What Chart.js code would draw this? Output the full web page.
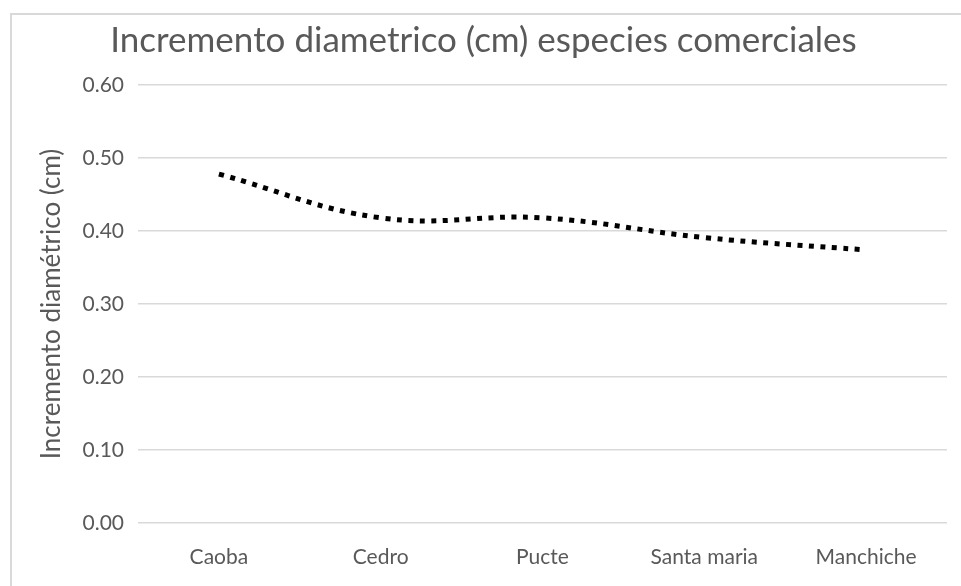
<!DOCTYPE html>
<html lang="es">
<head>
<meta charset="utf-8">
<title>Incremento diametrico</title>
<script src="https://cdn.jsdelivr.net/npm/chart.js@4"></script>
<style>
  html, body { margin: 0; padding: 0; background: #fff; overflow: hidden; }
  #frame {
    position: absolute; left: 10px; top: 13px;
    width: 1200px; height: 800px;
    border: 2px solid #d9d9d9; box-sizing: border-box;
  }
  #grafico { position: absolute; left: 0; top: 0; }
</style>
</head>
<body>
<div id="frame"></div>
<canvas id="grafico" width="961" height="586"></canvas>
<script>
// Especies y su incremento diametrico medio (cm)
const especies = ['Caoba', 'Cedro', 'Pucte', 'Santa maria', 'Manchiche'];
const incremento = [0.478, 0.418, 0.418, 0.391, 0.374];
const marcasY = [0, 0.1, 0.2, 0.3, 0.4, 0.5, 0.6];

const gris = '#595959';
const fuente = 'Lato, "Open Sans", sans-serif';

document.addEventListener('DOMContentLoaded', () => {
  const ctx = document.getElementById('grafico');
  new Chart(ctx, {
    type: 'line',
    data: {
      labels: especies,
      datasets: [{
        data: incremento,
        borderColor: '#000',
        borderWidth: 5,
        borderDash: [5, 6.5],
        borderCapStyle: 'butt',
        tension: 0.4,
        pointRadius: 0,
        fill: false,
      }],
    },
    options: {
      responsive: false,
      animation: false,
      layout: { padding: { left: 20, right: 14, top: 0, bottom: 0 } },
      plugins: {
        legend: { display: false },
        tooltip: { enabled: false },
        title: {
          display: true,
          text: 'Incremento diametrico (cm) especies comerciales',
          color: gris,
          font: { family: fuente, size: 35, weight: 'normal' },
          padding: { top: 20, bottom: 23 },
        },
      },
      scales: {
        x: {
          offset: true,
          grid: { display: false },
          border: { display: false },
          ticks: { color: gris, font: { family: fuente, size: 21 }, padding: 14, maxRotation: 0 },
          afterFit: (s) => { s.height = 63; },
        },
        y: {
          min: 0,
          max: 0.6,
          afterBuildTicks: (s) => { s.ticks = marcasY.map(v => ({ value: v })); },
          grid: { color: '#d9d9d9', lineWidth: 1.5, drawTicks: false },
          border: { display: false },
          ticks: {
            color: gris,
            font: { family: fuente, size: 21 },
            padding: 14,
            callback: (v) => Number(v).toFixed(2),
          },
          title: {
            display: true,
            text: 'Incremento diamétrico (cm)',
            color: gris,
            font: { family: fuente, size: 26 },
            padding: { top: 16, bottom: 0 },
          },
          afterFit: (s) => { s.width = 118; },
        },
      },
    },
  });
});
</script>
</body>
</html>
